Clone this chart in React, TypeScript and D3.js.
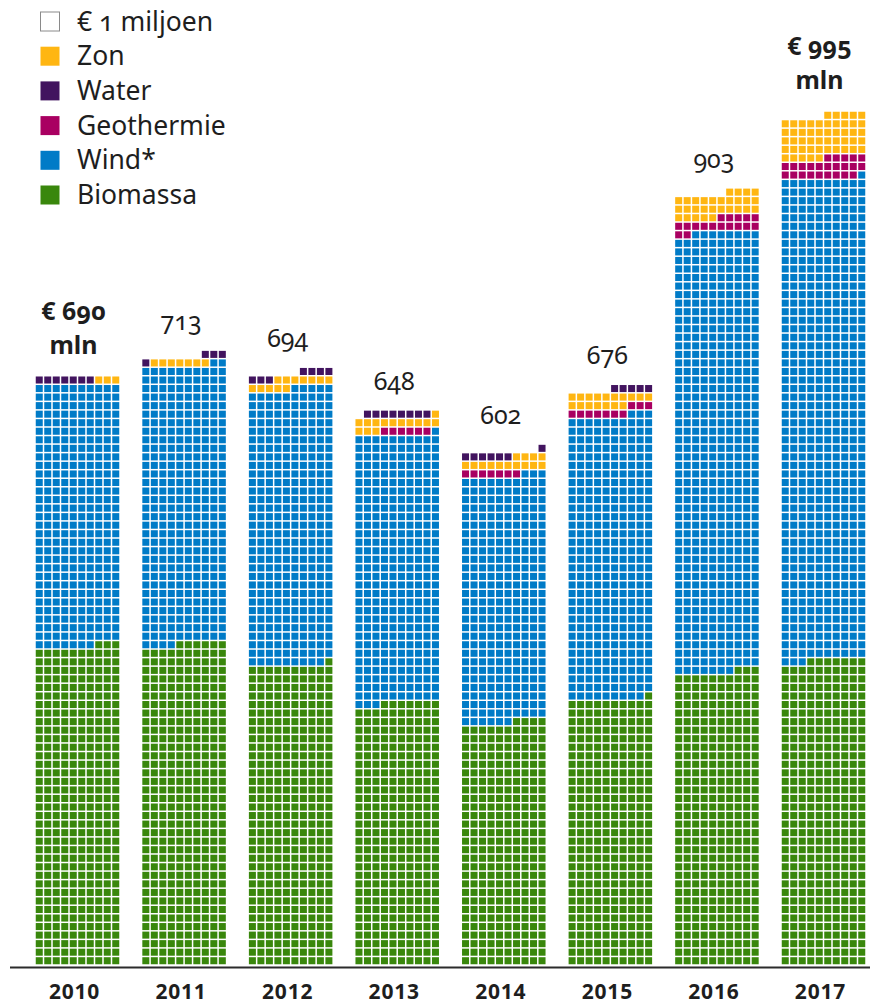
import React from 'react';
import * as d3 from 'd3';

// € miljoen per jaar, één vakje = € 1 miljoen
const years = ['2010', '2011', '2012', '2013', '2014', '2015', '2016', '2017'];
const biomassa = [373, 376, 351, 307, 284, 311, 343, 357];
const wind = [307, 326, 324, 314, 289, 332, 515, 564];
const geothermie = [0, 0, 0, 6, 7, 10, 17, 24];
const zon = [3, 7, 12, 14, 14, 17, 29, 50];
const water = [7, 4, 7, 8, 7, 5, 0, 0];
const totalLabels = ['690', '713', '694', '648', '602', '676', '903', '995'];
const boldYears = ['2010', '2017'];

const seriesValues = [biomassa, wind, geothermie, zon, water];
const seriesColors = ['#39870C', '#007BC7', '#A90061', '#FFB612', '#42145F'];

const legendLabels = ['€ 1 miljoen', 'Zon', 'Water', 'Geothermie', 'Wind*', 'Biomassa'];
const legendColors = ['#ffffff', '#FFB612', '#42145F', '#A90061', '#007BC7', '#39870C'];

const W = 870;
const H = 1004;
const COLS = 10;
const FONT = '"Noto Sans", "Open Sans", sans-serif';

export default function App() {
  const x = d3.scaleBand<string>()
    .domain(years)
    .range([35, 866])
    .paddingInner(0.2024)
    .paddingOuter(0);
  const col = d3.scaleLinear().domain([0, COLS]).range([0, x.bandwidth()]);
  const y = d3.scaleLinear().domain([0, 100]).range([965, 111]);
  const gap = 1.5;
  const cw = col(1) - col(0) - gap;
  const ch = y(0) - y(1) - gap;

  const bars = years.map((yr, yi) => {
    const cells: { k: number; color: string }[] = [];
    let k = 0;
    seriesValues.forEach((vals, si) => {
      for (let n = 0; n < vals[yi]; n++) {
        cells.push({ k, color: seriesColors[si] });
        k++;
      }
    });
    const topRow = Math.floor((k - 1) / COLS);
    return { yr, yi, cells, top: y(topRow + 1) };
  });

  const legendY = d3.scalePoint<string>().domain(legendLabels).range([21.5, 195]);

  return (
    <svg width={W} height={H} style={{ position: 'absolute', left: 0, top: 0, background: '#fff' }}
      fontFamily={FONT}>
      {/* legenda */}
      <g>
        {legendLabels.map((lab, i) => (
          <g key={lab} transform={`translate(0,${legendY(lab)})`}>
            <rect x={40.5} y={-9.5} width={19} height={19} fill={legendColors[i]}
              stroke={i === 0 ? '#8a8a8a' : 'none'} strokeWidth={1} />
            <text x={77} y={9} fontSize={26.5} fill="#1e1e1e"
              style={{ fontVariantNumeric: 'oldstyle-nums' }}>{lab}</text>
          </g>
        ))}
      </g>

      {/* vakjes */}
      {bars.map(b => (
        <g key={b.yr} transform={`translate(${x(b.yr)},0)`}>
          {b.cells.map(c => {
            const row = Math.floor(c.k / COLS);
            const cc = c.k % COLS;
            return (
              <rect key={c.k}
                x={col(COLS - 1 - cc) + gap / 2}
                y={y(row + 1) + gap / 2}
                width={cw} height={ch} fill={c.color} />
            );
          })}
        </g>
      ))}

      {/* totalen */}
      {bars.map(b => {
        const cx = (x(b.yr) as number) + x.bandwidth() / 2 - 4;
        if (boldYears.includes(b.yr)) {
          return (
            <g key={'t' + b.yr} fontWeight="bold" fontSize={25} fill="#1e1e1e" textAnchor="middle"
              style={{ fontVariantNumeric: 'oldstyle-nums' }}>
              <text x={cx} y={b.top - 56}>{'€ ' + totalLabels[b.yi]}</text>
              <text x={cx} y={b.top - 22}>mln</text>
            </g>
          );
        }
        return (
          <text key={'t' + b.yr} x={cx + 1} y={b.top - 20} fontSize={25} fill="#1e1e1e" textAnchor="middle"
            style={{ fontVariantNumeric: 'oldstyle-nums' }}>{totalLabels[b.yi]}</text>
        );
      })}

      {/* as */}
      <line x1={10} x2={870} y1={967.5} y2={967.5} stroke="#2b2b2b" strokeWidth={2} />
      {years.map(yr => (
        <text key={'y' + yr} x={(x(yr) as number) + x.bandwidth() / 2 - 3} y={999}
          fontSize={21} fontWeight="bold" fill="#1e1e1e" textAnchor="middle" letterSpacing={0.8}>
          {yr}
        </text>
      ))}
    </svg>
  );
}
